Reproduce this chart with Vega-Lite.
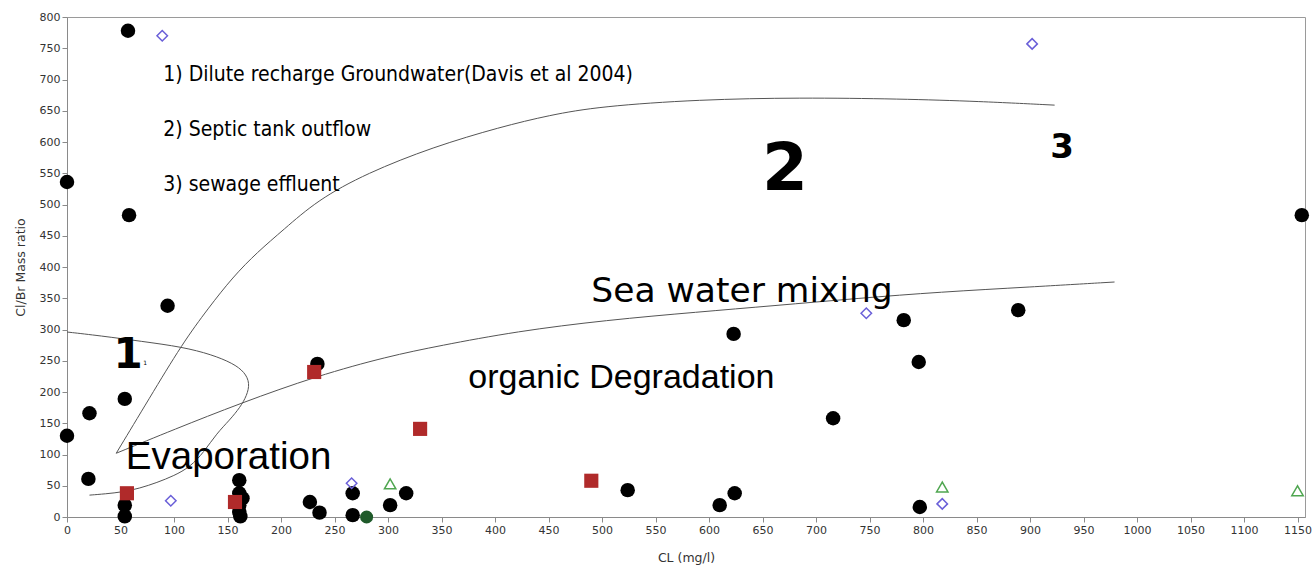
{
  "$schema": "https://vega.github.io/schema/vega-lite/v6.json",
  "autosize": "none",
  "padding": {"left": 67, "top": 17, "right": 11, "bottom": 51},
  "width": 1238,
  "height": 500,
  "background": "white",
  "config": {
    "view": {"stroke": "#9a9a9a", "strokeWidth": 1},
    "axis": {
      "grid": false,
      "domainColor": "#8a8a8a",
      "tickColor": "#8a8a8a",
      "labelColor": "#333333",
      "labelFont": "DejaVu Sans",
      "labelFontSize": 11,
      "tickSize": 5,
      "titleFont": "DejaVu Sans",
      "titleFontSize": 12.5,
      "titleFontWeight": "normal",
      "titleColor": "#333333"
    }
  },
  "datasets": {
    "points": [
      {"cl": 57, "ratio": 778, "group": "circle"},
      {"cl": 0, "ratio": 536, "group": "circle"},
      {"cl": 58, "ratio": 483, "group": "circle"},
      {"cl": 94, "ratio": 338, "group": "circle"},
      {"cl": 0, "ratio": 130, "group": "circle"},
      {"cl": 21, "ratio": 166, "group": "circle"},
      {"cl": 54, "ratio": 189, "group": "circle"},
      {"cl": 20, "ratio": 61, "group": "circle"},
      {"cl": 54, "ratio": 19, "group": "circle"},
      {"cl": 54, "ratio": 1, "group": "circle"},
      {"cl": 161, "ratio": 59, "group": "circle"},
      {"cl": 161, "ratio": 38, "group": "circle"},
      {"cl": 164, "ratio": 30, "group": "circle"},
      {"cl": 161, "ratio": 19, "group": "circle"},
      {"cl": 161, "ratio": 8, "group": "circle"},
      {"cl": 162, "ratio": 1, "group": "circle"},
      {"cl": 227, "ratio": 24, "group": "circle"},
      {"cl": 236, "ratio": 7, "group": "circle"},
      {"cl": 234, "ratio": 245, "group": "circle"},
      {"cl": 267, "ratio": 38, "group": "circle"},
      {"cl": 267, "ratio": 3, "group": "circle"},
      {"cl": 302, "ratio": 19, "group": "circle"},
      {"cl": 317, "ratio": 38, "group": "circle"},
      {"cl": 524, "ratio": 43, "group": "circle"},
      {"cl": 610, "ratio": 19, "group": "circle"},
      {"cl": 624, "ratio": 38, "group": "circle"},
      {"cl": 716, "ratio": 158, "group": "circle"},
      {"cl": 797, "ratio": 16, "group": "circle"},
      {"cl": 623, "ratio": 293, "group": "circle"},
      {"cl": 782, "ratio": 315, "group": "circle"},
      {"cl": 796, "ratio": 248, "group": "circle"},
      {"cl": 889, "ratio": 331, "group": "circle"},
      {"cl": 1154, "ratio": 483, "group": "circle"},
      {"cl": 280, "ratio": 0, "group": "green circle"},
      {"cl": 56, "ratio": 38, "group": "square"},
      {"cl": 231, "ratio": 232, "group": "square"},
      {"cl": 330, "ratio": 141, "group": "square"},
      {"cl": 490, "ratio": 58, "group": "square"},
      {"cl": 157, "ratio": 24, "group": "square"},
      {"cl": 89, "ratio": 770, "group": "diamond"},
      {"cl": 97, "ratio": 26, "group": "diamond"},
      {"cl": 266, "ratio": 54, "group": "diamond"},
      {"cl": 747, "ratio": 326, "group": "diamond"},
      {"cl": 818, "ratio": 21, "group": "diamond"},
      {"cl": 902, "ratio": 757, "group": "diamond"},
      {"cl": 302, "ratio": 53, "group": "triangle"},
      {"cl": 818, "ratio": 48, "group": "triangle"},
      {"cl": 1150, "ratio": 42, "group": "triangle"}
    ],
    "curves": [
      {"curve": "dilute", "seq": 1, "cl": 0, "ratio": 296},
      {"curve": "dilute", "seq": 2, "cl": 31, "ratio": 290},
      {"curve": "dilute", "seq": 3, "cl": 70, "ratio": 281},
      {"curve": "dilute", "seq": 4, "cl": 108, "ratio": 272},
      {"curve": "dilute", "seq": 5, "cl": 135, "ratio": 260},
      {"curve": "dilute", "seq": 6, "cl": 155, "ratio": 246},
      {"curve": "dilute", "seq": 7, "cl": 166, "ratio": 232},
      {"curve": "dilute", "seq": 8, "cl": 171, "ratio": 214},
      {"curve": "dilute", "seq": 9, "cl": 168, "ratio": 194},
      {"curve": "dilute", "seq": 10, "cl": 162, "ratio": 176},
      {"curve": "dilute", "seq": 11, "cl": 152, "ratio": 155},
      {"curve": "dilute", "seq": 12, "cl": 140, "ratio": 134},
      {"curve": "dilute", "seq": 13, "cl": 128, "ratio": 104},
      {"curve": "dilute", "seq": 14, "cl": 115, "ratio": 80},
      {"curve": "dilute", "seq": 15, "cl": 100, "ratio": 66},
      {"curve": "dilute", "seq": 16, "cl": 84, "ratio": 55},
      {"curve": "dilute", "seq": 17, "cl": 68, "ratio": 46},
      {"curve": "dilute", "seq": 18, "cl": 52, "ratio": 40},
      {"curve": "dilute", "seq": 19, "cl": 36, "ratio": 37},
      {"curve": "dilute", "seq": 20, "cl": 21, "ratio": 35},
      {"curve": "septic", "seq": 1, "cl": 46, "ratio": 102},
      {"curve": "septic", "seq": 2, "cl": 77, "ratio": 190},
      {"curve": "septic", "seq": 3, "cl": 108, "ratio": 278},
      {"curve": "septic", "seq": 4, "cl": 132, "ratio": 334},
      {"curve": "septic", "seq": 5, "cl": 155, "ratio": 384},
      {"curve": "septic", "seq": 6, "cl": 178, "ratio": 424},
      {"curve": "septic", "seq": 7, "cl": 202, "ratio": 459},
      {"curve": "septic", "seq": 8, "cl": 234, "ratio": 507},
      {"curve": "septic", "seq": 9, "cl": 280, "ratio": 550},
      {"curve": "septic", "seq": 10, "cl": 342, "ratio": 592},
      {"curve": "septic", "seq": 11, "cl": 405, "ratio": 624},
      {"curve": "septic", "seq": 12, "cl": 451, "ratio": 643},
      {"curve": "septic", "seq": 13, "cl": 498, "ratio": 657},
      {"curve": "septic", "seq": 14, "cl": 591, "ratio": 668},
      {"curve": "septic", "seq": 15, "cl": 685, "ratio": 671},
      {"curve": "septic", "seq": 16, "cl": 778, "ratio": 669},
      {"curve": "septic", "seq": 17, "cl": 853, "ratio": 665},
      {"curve": "septic", "seq": 18, "cl": 923, "ratio": 659},
      {"curve": "sea", "seq": 1, "cl": 46, "ratio": 102},
      {"curve": "sea", "seq": 2, "cl": 100, "ratio": 140},
      {"curve": "sea", "seq": 3, "cl": 162, "ratio": 182},
      {"curve": "sea", "seq": 4, "cl": 234, "ratio": 226},
      {"curve": "sea", "seq": 5, "cl": 300, "ratio": 257},
      {"curve": "sea", "seq": 6, "cl": 348, "ratio": 274},
      {"curve": "sea", "seq": 7, "cl": 420, "ratio": 297},
      {"curve": "sea", "seq": 8, "cl": 504, "ratio": 315},
      {"curve": "sea", "seq": 9, "cl": 590, "ratio": 328},
      {"curve": "sea", "seq": 10, "cl": 660, "ratio": 338},
      {"curve": "sea", "seq": 11, "cl": 740, "ratio": 350},
      {"curve": "sea", "seq": 12, "cl": 816, "ratio": 360},
      {"curve": "sea", "seq": 13, "cl": 900, "ratio": 368},
      {"curve": "sea", "seq": 14, "cl": 979, "ratio": 376}
    ]
  },
  "encoding": {
    "x": {
      "field": "cl", "type": "quantitative",
      "scale": {"domain": [0, 1157], "nice": false, "zero": false},
      "axis": {"title": "CL (mg/l)", "format": "d", "values": [0,50,100,150,200,250,300,350,400,450,500,550,600,650,700,750,800,850,900,950,1000,1050,1100,1150], "titlePadding": 16, "labelFlush": false}
    },
    "y": {
      "field": "ratio", "type": "quantitative",
      "scale": {"domain": [0, 800], "nice": false},
      "axis": {"title": "Cl/Br Mass ratio", "format": "d", "values": [0,50,100,150,200,250,300,350,400,450,500,550,600,650,700,750,800], "titlePadding": 12, "labelFlush": false}
    }
  },
  "layer": [
    {
      "data": {"name": "curves"},
      "mark": {"type": "line", "color": "#555555", "strokeWidth": 1, "interpolate": "basis"},
      "encoding": {"detail": {"field": "curve"}, "order": {"field": "seq", "type": "quantitative"}}
    },
    {
      "data": {"name": "points"},
      "transform": [{"filter": "datum.group === 'circle'"}],
      "mark": {"type": "point", "shape": "circle", "filled": true, "color": "black", "size": 210, "opacity": 1}
    },
    {
      "data": {"name": "points"},
      "transform": [{"filter": "datum.group === 'green circle'"}],
      "mark": {"type": "point", "shape": "circle", "filled": true, "color": "#1f5a2a", "size": 170, "opacity": 1}
    },
    {
      "data": {"name": "points"},
      "transform": [{"filter": "datum.group === 'square'"}],
      "mark": {"type": "point", "shape": "square", "filled": true, "color": "#b02a2a", "size": 200, "opacity": 1}
    },
    {
      "data": {"name": "points"},
      "transform": [{"filter": "datum.group === 'diamond'"}],
      "mark": {"type": "point", "shape": "diamond", "filled": false, "color": "#6a5fd8", "strokeWidth": 1.5, "size": 110, "opacity": 1}
    },
    {
      "data": {"name": "points"},
      "transform": [{"filter": "datum.group === 'triangle'"}],
      "mark": {"type": "point", "shape": "triangle-up", "filled": false, "color": "#4fa650", "strokeWidth": 1.5, "size": 130, "opacity": 1}
    },
    {
      "data": {"values": [
        {"label": "1) Dilute recharge Groundwater(Davis et al 2004)", "cl": 90, "ratio": 707},
        {"label": "2) Septic tank outflow", "cl": 90, "ratio": 619},
        {"label": "3) sewage effluent", "cl": 90, "ratio": 531}
      ]},
      "mark": {"type": "text", "align": "left", "baseline": "middle", "font": "DejaVu Sans Condensed", "fontSize": 21, "color": "black"},
      "encoding": {"text": {"field": "label"}}
    },
    {
      "data": {"values": [
        {"label": "Evaporation", "cl": 55, "ratio": 96}
      ]},
      "mark": {"type": "text", "align": "left", "baseline": "middle", "font": "Liberation Sans", "fontSize": 38.5, "color": "black"},
      "encoding": {"text": {"field": "label"}}
    },
    {
      "data": {"values": [
        {"label": "organic Degradation", "cl": 375, "ratio": 222}
      ]},
      "mark": {"type": "text", "align": "left", "baseline": "middle", "font": "Liberation Sans", "fontSize": 34, "color": "black"},
      "encoding": {"text": {"field": "label"}}
    },
    {
      "data": {"values": [{"label": "Sea water mixing", "cl": 490, "ratio": 360}]},
      "mark": {"type": "text", "align": "left", "baseline": "middle", "font": "DejaVu Sans", "fontSize": 34.5, "color": "black"},
      "encoding": {"text": {"field": "label"}}
    },
    {
      "data": {"values": [{"label": "2", "cl": 671, "ratio": 555}]},
      "mark": {"type": "text", "align": "center", "baseline": "middle", "font": "DejaVu Sans", "fontSize": 66, "fontWeight": "bold", "color": "black"},
      "encoding": {"text": {"field": "label"}}
    },
    {
      "data": {"values": [{"label": "3", "cl": 930, "ratio": 590}]},
      "mark": {"type": "text", "align": "center", "baseline": "middle", "font": "DejaVu Sans", "fontSize": 34, "fontWeight": "bold", "color": "black"},
      "encoding": {"text": {"field": "label"}}
    },
    {
      "data": {"values": [{"label": "1", "cl": 57, "ratio": 259}]},
      "mark": {"type": "text", "align": "center", "baseline": "middle", "font": "DejaVu Sans", "fontSize": 42, "fontWeight": "bold", "color": "black"},
      "encoding": {"text": {"field": "label"}}
    },
    {
      "data": {"values": [{"label": "1", "cl": 73, "ratio": 246}]},
      "mark": {"type": "text", "align": "center", "baseline": "middle", "font": "DejaVu Sans", "fontSize": 6, "color": "black"},
      "encoding": {"text": {"field": "label"}}
    }
  ]
}
